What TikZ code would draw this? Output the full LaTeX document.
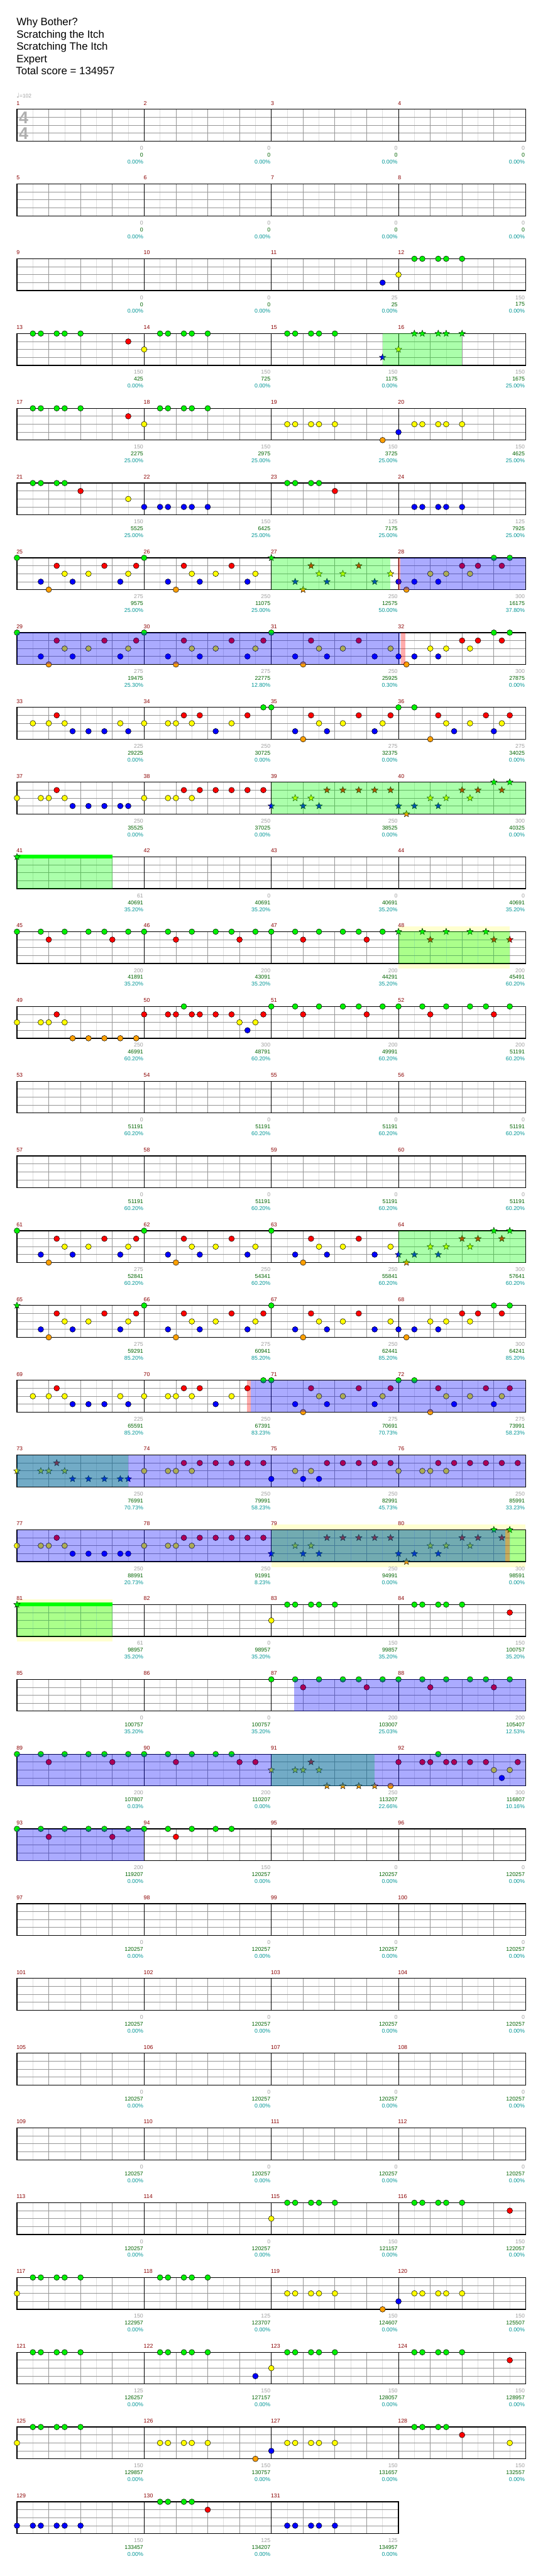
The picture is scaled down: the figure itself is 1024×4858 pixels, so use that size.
\documentclass[tikz,border=0pt]{standalone}
\usepackage{fontspec}
\setmainfont{Liberation Sans}
\newfontfamily\notefont{DejaVu Sans}
\usetikzlibrary{shapes.geometric}

\definecolor{fret0}{RGB}{0,240,0}
\definecolor{fret1}{RGB}{255,0,0}
\definecolor{fret2}{RGB}{255,255,0}
\definecolor{fret3}{RGB}{0,0,255}
\definecolor{fret4}{RGB}{255,160,0}
\definecolor{measred}{RGB}{139,0,0}
\definecolor{ptsgray}{RGB}{160,160,160}
\definecolor{totgreen}{RGB}{0,100,0}
\definecolor{pctcyan}{RGB}{0,150,150}
\definecolor{beatgray}{RGB}{150,150,150}
\definecolor{halfgray}{RGB}{222,222,222}
\definecolor{actyellow}{RGB}{255,255,208}
\definecolor{sigray}{RGB}{175,175,175}

% one row of four (or fewer) measures
\newcommand{\staffrow}[2]{%
  \pgfmathsetmacro{\rowtop}{206+141*#1}%
  \pgfmathsetmacro{\rowend}{32+240*#2}%
  \pgfmathtruncatemacro{\nh}{8*#2-1}%
  \pgfmathtruncatemacro{\nb}{4*#2-1}%
  \pgfmathtruncatemacro{\nm}{#2-1}%
  \foreach \kk in {1,3,...,\nh} \draw[halfline] ({32+30*\kk},\rowtop) -- ++(0,60);
  \foreach \kk in {1,...,\nb} \draw[beatline] ({32+60*\kk},\rowtop) -- ++(0,60);
  \foreach \yy in {15,30,45} \draw[beatline] (32,{\rowtop+\yy}) -- (\rowend,{\rowtop+\yy});
  \foreach \kk in {1,...,\nm} \draw[barline] ({32+240*\kk},\rowtop) -- ++(0,60);
  \draw[frame] (32,\rowtop) rectangle (\rowend,{\rowtop+60});
  \foreach \kk in {0,...,\nm}{%
    \pgfmathtruncatemacro{\mnum}{4*#1+\kk+1}%
    \node[measno] at ({31+240*\kk},{\rowtop-11.5}) {\mnum};}%
}
% notes: position in sixteenths / lane
\newcommand{\gems}[2]{%
  \pgfmathsetmacro{\rowtop}{206+141*#1}%
  \foreach \g/\lane in {#2}
    \draw[gem, fill=fret\lane] ({32+15*\g},{\rowtop+15*\lane}) circle[radius=5.3pt];}
\newcommand{\stargems}[2]{%
  \pgfmathsetmacro{\rowtop}{206+141*#1}%
  \foreach \g/\lane in {#2}
    \node[stargem, fill=fret\lane] at ({32+15*\g},{\rowtop+15*\lane}) {};}
% shaded zones
\newcommand{\zone}[4]{%
  \pgfmathsetmacro{\rowtop}{206+141*#2}%
  \fill[#1] (#3,\rowtop) rectangle (#4,{\rowtop+60});}
\newcommand{\actzone}[3]{%
  \pgfmathsetmacro{\rowtop}{206+141*#1}%
  \fill[actyellow] (#2,{\rowtop-10}) rectangle (#3,{\rowtop+70});}
\newcommand{\spbar}[3]{%
  \pgfmathsetmacro{\rowtop}{206+141*#1}%
  \fill[green] (#2,{\rowtop-4}) rectangle (#3,{\rowtop+3});}
% scores under each measure
\newcommand{\scores}[2]{%
  \pgfmathsetmacro{\rowtop}{206+141*#1}%
  \foreach \gain/\tot/\pc [count=\col] in {#2}{%
    \node[pts] at ({30.5+240*\col},{\rowtop+73}) {\gain};
    \node[total] at ({30.5+240*\col},{\rowtop+86}) {\tot};
    \node[pct] at ({30.5+240*\col},{\rowtop+99}) {\pc\%};}}

\begin{document}
\begin{tikzpicture}[x=1pt, y=-1pt,
  gem/.style={draw=black, line width=0.6pt},
  stargem/.style={star, star points=5, star point ratio=2.3, minimum size=13pt, inner sep=0pt, draw=black, line width=0.5pt},
  halfline/.style={draw=halfgray, line width=0.8pt},
  beatline/.style={draw=beatgray, line width=1pt},
  barline/.style={draw=black, line width=1pt},
  frame/.style={draw=black, line width=1.5pt},
  measno/.style={anchor=west, inner sep=0pt, text=measred, font=\fontsize{10.5}{12}\selectfont},
  pts/.style={anchor=east, inner sep=0pt, text=ptsgray, font=\fontsize{10.5}{12}\selectfont},
  total/.style={anchor=east, inner sep=0pt, text=totgreen, font=\fontsize{10.5}{12}\selectfont},
  pct/.style={anchor=east, inner sep=0pt, text=pctcyan, font=\fontsize{10.5}{12}\selectfont},
  head/.style={anchor=base west, inner sep=0pt, font=\fontsize{20}{24}\selectfont},
  timesig/.style={inner sep=0pt, text=sigray, font=\bfseries\fontsize{32}{32}\selectfont},
  spfill/.style={fill=green, fill opacity=0.33},
  solofill/.style={fill=blue, fill opacity=0.33},
  edgefill/.style={fill=red, fill opacity=0.33}]

\fill[white] (0,0) rectangle (1024,4858);
\useasboundingbox (0,0) rectangle (1024,4858);

% header
\node[head] (title) at (31,48.3) {Why Bother?};
\node[head] (album) at (31,71.5) {Scratching the Itch};
\node[head] (song) at (31,94.6) {Scratching The Itch};
\node[head] (level) at (31,117.7) {Expert};
\node[head] (total) at (30,140.8) {Total score = 134957};
\node[anchor=west, inner sep=0pt, text=ptsgray, font=\fontsize{10}{12}\selectfont] (tempo) at (31,180) {{\notefont\fontsize{12}{12}\selectfont ♩}=102};

% activation zones
\actzone{11}{752}{962}
\actzone{19}{512}{992}
\actzone{20}{32}{212}

% staves
\foreach \r in {0,...,31} {\staffrow{\r}{4}}
\staffrow{32}{3}
\node[timesig] (sigtop) at (44.5,221.7) {4};
\node[timesig] (sigbottom) at (44.5,251.7) {4};

\spbar{10}{32}{212}
\spbar{20}{32}{212}

% notes
\gems{2}{46/3,48/2,50/0,51/0,53/0,54/0,56/0}
\gems{3}{2/0,3/0,5/0,6/0,8/0,14/1,16/2,18/0,19/0,21/0,22/0,24/0,34/0,35/0,37/0,38/0,40/0}
\stargems{3}{46/3,48/2,50/0,51/0,53/0,54/0,56/0}
\gems{4}{2/0,3/0,5/0,6/0,8/0,14/1,16/2,18/0,19/0,21/0,22/0,24/0,34/2,35/2,37/2,38/2,40/2,46/4,48/3,50/2,51/2,53/2,54/2,56/2}
\gems{5}{2/0,3/0,5/0,6/0,8/1,14/2,16/3,18/3,19/3,21/3,22/3,24/3,34/0,35/0,37/0,38/0,40/1,50/3,51/3,53/3,54/3,56/3}
\gems{6}{0/0,3/3,4/4,5/1,6/2,7/3,9/2,11/1,13/3,14/2,15/1,16/0,19/3,20/4,21/1,22/2,23/3,25/2,27/1,29/3,30/2,48/3,49/4,50/3,52/2,53/3,54/2,56/1,57/2,58/1,60/0,61/1,62/0}
\stargems{6}{32/0,35/3,36/4,37/1,38/2,39/3,41/2,43/1,45/3,47/2}
\gems{7}{0/0,3/3,4/4,5/1,6/2,7/3,9/2,11/1,13/3,14/2,15/1,16/0,19/3,20/4,21/1,22/2,23/3,25/2,27/1,29/3,30/2,31/1,32/0,35/3,36/4,37/1,38/2,39/3,41/2,43/1,45/3,47/2,48/3,49/4,50/3,52/2,53/3,54/2,56/1,57/2,58/1,60/0,61/1,62/0}
\gems{8}{2/2,4/2,5/1,6/2,7/3,9/3,11/3,13/2,14/3,16/2,19/2,20/2,21/1,22/2,23/1,25/3,27/2,29/1,31/0,32/0,35/3,36/4,37/1,38/2,39/3,41/2,43/1,45/3,46/2,47/1,48/0,50/0,52/4,53/1,54/2,55/3,57/2,59/1,60/3,61/2,62/1}
\gems{9}{0/2,3/2,4/2,5/1,6/2,7/3,9/3,11/3,13/3,14/3,16/2,19/2,20/2,21/1,22/2,23/1,25/1,27/1,29/1,31/1}
\stargems{9}{32/3,35/2,36/3,37/2,38/3,39/1,41/1,43/1,45/1,47/1,48/3,49/4,50/3,52/2,53/3,54/2,56/1,57/2,58/1,60/0,61/1,62/0}
\stargems{10}{0/0}
\gems{11}{0/0,3/0,4/1,6/0,9/0,11/0,12/1,14/0,16/0,19/0,20/1,22/0,25/0,27/0,28/1,30/0,32/0,35/0,36/1,38/0,41/0,43/0,44/1,46/0}
\stargems{11}{48/0,51/0,52/1,54/0,57/0,59/0,60/1,62/1}
\gems{12}{0/2,3/2,4/2,5/1,6/2,7/4,9/4,11/4,13/4,15/4,16/1,19/1,20/1,21/0,22/1,23/1,25/1,27/1,28/2,29/3,30/2,31/1,32/0,35/0,36/1,38/0,41/0,43/0,44/1,46/0,48/0,51/0,52/1,54/0,57/0,59/0,60/1,62/0}
\gems{15}{0/0,3/3,4/4,5/1,6/2,7/3,9/2,11/1,13/3,14/2,15/1,16/0,19/3,20/4,21/1,22/2,23/3,25/2,27/1,29/3,30/2,32/0,35/3,36/4,37/1,38/2,39/3,41/2,43/1,45/3,47/2}
\stargems{15}{48/3,49/4,50/3,52/2,53/3,54/2,56/1,57/2,58/1,60/0,61/1,62/0}
\stargems{16}{0/0}
\gems{16}{3/3,4/4,5/1,6/2,7/3,9/2,11/1,13/3,14/2,15/1,16/0,19/3,20/4,21/1,22/2,23/3,25/2,27/1,29/3,30/2,31/1,32/0,35/3,36/4,37/1,38/2,39/3,41/2,43/1,45/3,47/2,48/3,49/4,50/3,52/2,53/3,54/2,56/1,57/2,58/1,60/0,61/1,62/0}
\gems{17}{2/2,4/2,5/1,6/2,7/3,9/3,11/3,13/2,14/3,16/2,19/2,20/2,21/1,22/2,23/1,25/3,27/2,29/1,31/0,32/0,35/3,36/4,37/1,38/2,39/3,41/2,43/1,45/3,46/2,47/1,48/0,50/0,52/4,53/1,54/2,55/3,57/2,59/1,60/3,61/2,62/1}
\stargems{18}{0/2,3/2,4/2,5/1,6/2,7/3,9/3,11/3,13/3,14/3}
\gems{18}{16/2,19/2,20/2,21/1,22/2,23/1,25/1,27/1,29/1,31/1,32/3,35/2,36/3,37/2,38/3,39/1,41/1,43/1,45/1,47/1,48/2,51/2,52/2,53/1,54/2,55/1,57/1,59/1,61/1,63/1}
\gems{19}{0/2,3/2,4/2,5/1,6/2,7/3,9/3,11/3,13/3,14/3,16/2,19/2,20/2,21/1,22/2,23/1,25/1,27/1,29/1,31/1}
\stargems{19}{32/3,35/2,36/3,37/2,38/3,39/1,41/1,43/1,45/1,47/1,48/3,49/4,50/3,52/2,53/3,54/2,56/1,57/2,58/1,60/0,61/1,62/0}
\stargems{20}{0/0}
\gems{20}{32/2,34/0,35/0,37/0,38/0,40/0,50/0,51/0,53/0,54/0,56/0,62/1}
\gems{21}{32/0,35/0,36/1,38/0,41/0,43/0,44/1,46/0,48/0,51/0,52/1,54/0,57/0,59/0,60/1,62/0}
\gems{22}{0/0,3/0,4/1,6/0,9/0,11/0,12/1,14/0,16/0,19/0,20/1,22/0,25/0,27/0,28/1,30/1,47/4,48/1,51/1,52/1,53/0,54/1,55/1,57/1,59/1,60/2,61/3,62/2,63/1}
\stargems{22}{32/2,35/2,36/2,37/1,38/2,39/4,41/4,43/4,45/4}
\gems{23}{0/0,3/0,4/1,6/0,9/0,11/0,12/1,14/0,16/0,19/0,20/1,22/0,25/0,27/0}
\gems{28}{32/2,34/0,35/0,37/0,38/0,40/0,50/0,51/0,53/0,54/0,56/0,62/1}
\gems{29}{0/2,2/0,3/0,5/0,6/0,8/0,18/0,19/0,21/0,22/0,24/0,34/2,35/2,37/2,38/2,40/2,46/4,48/3,50/2,51/2,53/2,54/2,56/2}
\gems{30}{2/0,3/0,5/0,6/0,8/0,18/0,19/0,21/0,22/0,24/0,30/3,32/2,34/0,35/0,37/0,38/0,40/0,50/0,51/0,53/0,54/0,56/0,62/1}
\gems{31}{0/2,2/0,3/0,5/0,6/0,8/0,18/2,19/2,21/2,22/2,24/2,30/4,32/3,34/2,35/2,37/2,38/2,40/2,50/0,51/0,53/0,54/0,56/1,62/2}
\gems{32}{0/3,2/3,3/3,5/3,6/3,8/3,18/0,19/0,21/0,22/0,24/1,34/3,35/3,37/3,38/3,40/3}

% star power and solo shading
\zone{spfill}{3}{722}{872}
\zone{spfill}{6}{512}{737}
\zone{edgefill}{6}{751}{756}
\zone{solofill}{6}{756}{992}
\zone{solofill}{7}{32}{756}
\zone{edgefill}{7}{757}{765}
\zone{spfill}{9}{512}{992}
\zone{spfill}{10}{32}{212}
\zone{spfill}{11}{752}{962}
\zone{spfill}{15}{752}{992}
\zone{edgefill}{17}{466}{473}
\zone{solofill}{17}{473}{992}
\zone{spfill}{18}{32}{242}
\zone{solofill}{18}{32}{992}
\zone{spfill}{19}{512}{992}
\zone{solofill}{19}{32}{954}
\zone{edgefill}{19}{954}{962}
\zone{spfill}{20}{32}{212}
\zone{solofill}{21}{555}{992}
\zone{spfill}{22}{512}{707}
\zone{solofill}{22}{32}{992}
\zone{solofill}{23}{32}{272}

% scores
\scores{0}{0/0/0.00,0/0/0.00,0/0/0.00,0/0/0.00}
\scores{1}{0/0/0.00,0/0/0.00,0/0/0.00,0/0/0.00}
\scores{2}{0/0/0.00,0/0/0.00,25/25/0.00,150/175/0.00}
\scores{3}{150/425/0.00,150/725/0.00,150/1175/0.00,150/1675/25.00}
\scores{4}{150/2275/25.00,150/2975/25.00,150/3725/25.00,150/4625/25.00}
\scores{5}{150/5525/25.00,150/6425/25.00,125/7175/25.00,125/7925/25.00}
\scores{6}{275/9575/25.00,250/11075/25.00,250/12575/50.00,300/16175/37.80}
\scores{7}{275/19475/25.30,275/22775/12.80,250/25925/0.30,300/27875/0.00}
\scores{8}{225/29225/0.00,250/30725/0.00,275/32375/0.00,275/34025/0.00}
\scores{9}{250/35525/0.00,250/37025/0.00,250/38525/0.00,300/40325/0.00}
\scores{10}{61/40691/35.20,0/40691/35.20,0/40691/35.20,0/40691/35.20}
\scores{11}{200/41891/35.20,200/43091/35.20,200/44291/35.20,200/45491/60.20}
\scores{12}{250/46991/60.20,300/48791/60.20,200/49991/60.20,200/51191/60.20}
\foreach \r in {13,14} {\scores{\r}{0/51191/60.20,0/51191/60.20,0/51191/60.20,0/51191/60.20}}
\scores{15}{275/52841/60.20,250/54341/60.20,250/55841/60.20,300/57641/60.20}
\scores{16}{275/59291/85.20,275/60941/85.20,250/62441/85.20,300/64241/85.20}
\scores{17}{225/65591/85.20,250/67391/83.23,275/70691/70.73,275/73991/58.23}
\scores{18}{250/76991/70.73,250/79991/58.23,250/82991/45.73,250/85991/33.23}
\scores{19}{250/88991/20.73,250/91991/8.23,250/94991/0.00,300/98591/0.00}
\scores{20}{61/98957/35.20,0/98957/35.20,150/99857/35.20,150/100757/35.20}
\scores{21}{0/100757/35.20,0/100757/35.20,200/103007/25.03,200/105407/12.53}
\scores{22}{200/107807/0.03,200/110207/0.00,250/113207/22.66,300/116807/10.16}
\scores{23}{200/119207/0.00,150/120257/0.00,0/120257/0.00,0/120257/0.00}
\foreach \r in {24,...,27} {\scores{\r}{0/120257/0.00,0/120257/0.00,0/120257/0.00,0/120257/0.00}}
\scores{28}{0/120257/0.00,0/120257/0.00,150/121157/0.00,150/122057/0.00}
\scores{29}{150/122957/0.00,125/123707/0.00,150/124607/0.00,150/125507/0.00}
\scores{30}{125/126257/0.00,150/127157/0.00,150/128057/0.00,150/128957/0.00}
\scores{31}{150/129857/0.00,150/130757/0.00,150/131657/0.00,150/132557/0.00}
\scores{32}{150/133457/0.00,125/134207/0.00,125/134957/0.00}
\end{tikzpicture}
\end{document}
